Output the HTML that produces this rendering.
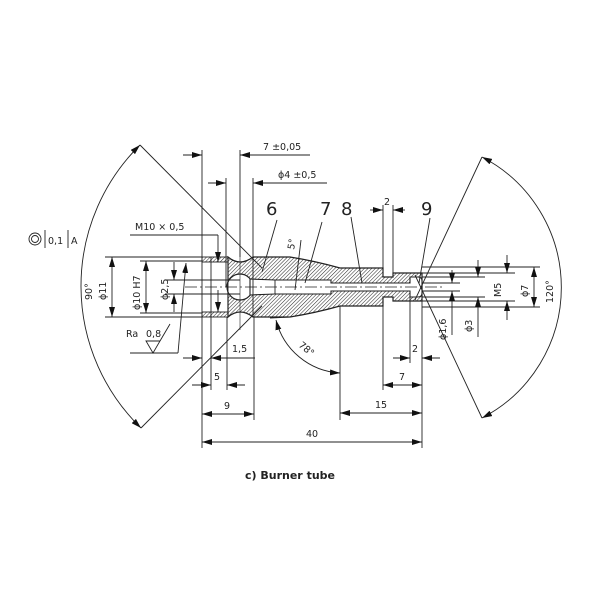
<!DOCTYPE html>
<html><head><meta charset="utf-8"><style>
html,body{margin:0;padding:0;background:#fff}
svg{display:block}
text{font-family:"DejaVu Sans","Liberation Sans",sans-serif;fill:#222}
</style></head><body>
<svg width="600" height="600" viewBox="0 0 600 600" xmlns="http://www.w3.org/2000/svg">
<defs>
<pattern id="h" width="2.6" height="2.6" patternUnits="userSpaceOnUse" patternTransform="rotate(45)">
<rect width="2.6" height="2.6" fill="#fff"/><line x1="0" y1="0" x2="0" y2="2.6" stroke="#222" stroke-width="1"/>
</pattern>
<marker id="a" markerWidth="10" markerHeight="6" refX="10" refY="3" orient="auto" markerUnits="userSpaceOnUse">
<path d="M0,0 L10,3 L0,6 z" fill="#111"/></marker>
<marker id="b" markerWidth="10" markerHeight="6" refX="0" refY="3" orient="auto" markerUnits="userSpaceOnUse">
<path d="M10,0 L0,3 L10,6 z" fill="#111"/></marker>
</defs>
<g stroke="#222" stroke-width="0.9" fill="none">
<rect x="202" y="257" width="26" height="5" fill="url(#h)"/>
<rect x="202" y="312" width="26" height="5" fill="url(#h)"/>
<line x1="202" y1="257" x2="202" y2="317"/>
<line x1="211" y1="257" x2="211" y2="317"/>
<path d="M228,257 Q240,267 253,257 L290,257 Q315,261 340,268 L383,268 L383,277 L393,277 L393,273 L422,273 L422,301 L393,301 L393,297 L383,297 L383,306 L340,306 Q315,313 290,317 L253,317 Q240,307 228,317 Z" fill="url(#h)" stroke-width="1.2"/>
<circle cx="240" cy="287" r="13" fill="#fff" stroke-width="1.2"/>
<path d="M250,279 L275,280 L331,280 L331,283 L410,283 L410,277 L418,277 Q422,277 422,281 L422,293 Q422,297 418,297 L410,297 L410,291 L331,291 L331,294 L275,294 L250,295 Z" fill="#fff" stroke-width="1.1"/>
<line x1="275" y1="280" x2="275" y2="294"/>
<line x1="253" y1="257" x2="253" y2="317"/>
<line x1="228" y1="257" x2="228" y2="317"/>
<line x1="185" y1="287" x2="445" y2="287" stroke-dasharray="12,3,2,3" stroke-width="0.7"/>
<line x1="240" y1="240" x2="240" y2="330" stroke-width="0.6"/>
<line x1="202" y1="150" x2="202" y2="257"/><line x1="240" y1="150" x2="240" y2="257"/>
<line x1="226" y1="178" x2="226" y2="287"/><line x1="253" y1="178" x2="253" y2="257"/>
<line x1="183" y1="155" x2="202" y2="155" marker-end="url(#a)"/>
<line x1="310" y1="155" x2="240" y2="155" marker-end="url(#a)"/>
<line x1="208" y1="183" x2="226" y2="183" marker-end="url(#a)"/>
<line x1="327" y1="183" x2="253" y2="183" marker-end="url(#a)"/>
<line x1="140" y1="145" x2="262" y2="268"/>
<line x1="141" y1="428" x2="262" y2="306"/>
<path d="M140,145 A198,198 0 0 0 141,428" marker-start="url(#b)" marker-end="url(#a)"/>
<line x1="482" y1="157" x2="415" y2="300"/>
<line x1="482" y1="418" x2="415" y2="275"/>
<path d="M482,157 A147,147 0 0 1 482,418" marker-start="url(#b)" marker-end="url(#a)"/>
<line x1="105" y1="257" x2="202" y2="257"/><line x1="105" y1="317" x2="202" y2="317"/>
<line x1="140" y1="261" x2="202" y2="261"/><line x1="140" y1="313" x2="202" y2="313"/>
<line x1="165" y1="280" x2="240" y2="280"/><line x1="165" y1="294" x2="240" y2="294"/>
<line x1="112" y1="287" x2="112" y2="257" marker-end="url(#a)"/><line x1="112" y1="287" x2="112" y2="317" marker-end="url(#a)"/>
<line x1="146" y1="287" x2="146" y2="261" marker-end="url(#a)"/><line x1="146" y1="287" x2="146" y2="313" marker-end="url(#a)"/>
<line x1="174" y1="262" x2="174" y2="280" marker-end="url(#a)"/><line x1="174" y1="312" x2="174" y2="294" marker-end="url(#a)"/>
<line x1="130" y1="235" x2="218" y2="235"/>
<line x1="218" y1="235" x2="218" y2="262" marker-end="url(#a)"/>
<line x1="218" y1="290" x2="218" y2="312" marker-end="url(#a)"/>
<line x1="130" y1="353" x2="178" y2="353"/>
<line x1="178" y1="353" x2="186" y2="263" marker-end="url(#a)"/>
<path d="M146,341 L160,341 L153,353 Z M160,341 L170,324"/>
<line x1="277" y1="220" x2="262" y2="272"/>
<line x1="322" y1="222" x2="305" y2="283"/>
<line x1="351" y1="217" x2="362" y2="283"/>
<line x1="430" y1="218" x2="419" y2="283"/>
<line x1="301" y1="240" x2="295" y2="290"/>
<line x1="383" y1="205" x2="383" y2="268"/><line x1="393" y1="205" x2="393" y2="273"/>
<line x1="370" y1="210" x2="383" y2="210" marker-end="url(#a)"/>
<line x1="405" y1="210" x2="393" y2="210" marker-end="url(#a)"/>
<line x1="202" y1="317" x2="202" y2="448"/><line x1="211" y1="317" x2="211" y2="390"/>
<line x1="227" y1="317" x2="227" y2="390"/><line x1="254" y1="317" x2="254" y2="420"/>
<line x1="183" y1="358" x2="202" y2="358" marker-end="url(#a)"/>
<line x1="255" y1="358" x2="211" y2="358" marker-end="url(#a)"/>
<line x1="192" y1="385" x2="211" y2="385" marker-end="url(#a)"/>
<line x1="245" y1="385" x2="227" y2="385" marker-end="url(#a)"/>
<line x1="228" y1="414" x2="202" y2="414" marker-end="url(#a)"/><line x1="228" y1="414" x2="254" y2="414" marker-end="url(#a)"/>
<line x1="312" y1="442" x2="202" y2="442" marker-end="url(#a)"/><line x1="312" y1="442" x2="422" y2="442" marker-end="url(#a)"/>
<line x1="340" y1="306" x2="340" y2="420"/><line x1="383" y1="297" x2="383" y2="390"/>
<line x1="410" y1="297" x2="410" y2="363"/><line x1="422" y1="301" x2="422" y2="448"/>
<line x1="381" y1="413" x2="340" y2="413" marker-end="url(#a)"/><line x1="381" y1="413" x2="422" y2="413" marker-end="url(#a)"/>
<line x1="403" y1="385" x2="383" y2="385" marker-end="url(#a)"/><line x1="403" y1="385" x2="422" y2="385" marker-end="url(#a)"/>
<line x1="393" y1="358" x2="410" y2="358" marker-end="url(#a)"/>
<line x1="440" y1="358" x2="422" y2="358" marker-end="url(#a)"/>
<line x1="270" y1="318" x2="290" y2="317"/>
<path d="M340,373 A70,70 0 0 1 276,320" marker-end="url(#a)" marker-start="url(#b)"/>
<line x1="422" y1="267" x2="540" y2="267"/><line x1="422" y1="307" x2="540" y2="307"/>
<line x1="422" y1="283" x2="460" y2="283"/><line x1="422" y1="291" x2="460" y2="291"/>
<line x1="422" y1="277" x2="485" y2="277"/><line x1="422" y1="297" x2="485" y2="297"/>
<line x1="422" y1="273" x2="515" y2="273"/><line x1="422" y1="301" x2="515" y2="301"/>
<line x1="452" y1="270" x2="452" y2="283" marker-end="url(#a)"/><line x1="452" y1="305" x2="452" y2="291" marker-end="url(#a)"/>
<line x1="452" y1="305" x2="452" y2="335"/>
<line x1="478" y1="260" x2="478" y2="277" marker-end="url(#a)"/><line x1="478" y1="310" x2="478" y2="297" marker-end="url(#a)"/>
<line x1="478" y1="310" x2="478" y2="337"/>
<line x1="507" y1="255" x2="507" y2="273" marker-end="url(#a)"/><line x1="507" y1="320" x2="507" y2="301" marker-end="url(#a)"/>
<line x1="534" y1="287" x2="534" y2="267" marker-end="url(#a)"/><line x1="534" y1="287" x2="534" y2="307" marker-end="url(#a)"/>
<circle cx="35" cy="239" r="6"/><circle cx="35" cy="239" r="3.5"/>
<line x1="45" y1="230" x2="45" y2="248"/><line x1="68" y1="230" x2="68" y2="248"/>
</g>
<g font-size="9.5">
<text x="263" y="150">7 ±0,05</text>
<text x="278" y="178">ϕ4 ±0,5</text>
<text x="135" y="230">M10 × 0,5</text>
<text x="48" y="244">0,1</text><text x="71" y="244">A</text>
<text x="126" y="337">Ra</text><text x="146" y="337">0,8</text>
<text x="232" y="352">1,5</text>
<text x="214" y="380">5</text>
<text x="224" y="409">9</text>
<text x="306" y="437">40</text>
<text x="375" y="408">15</text>
<text x="399" y="380">7</text>
<text x="412" y="352">2</text>
<text x="384" y="205">2</text>
<text transform="translate(92,300) rotate(-90)">90°</text>
<text transform="translate(106,300) rotate(-90)">ϕ11</text>
<text transform="translate(140,310) rotate(-90)">ϕ10 H7</text>
<text transform="translate(168,300) rotate(-90)">ϕ2,5</text>
<text transform="translate(446,340) rotate(-90)">ϕ1,6</text>
<text transform="translate(472,332) rotate(-90)">ϕ3</text>
<text transform="translate(501,297) rotate(-90)">M5</text>
<text transform="translate(528,297) rotate(-90)">ϕ7</text>
<text transform="translate(553,303) rotate(-90)">120°</text>
<text transform="translate(294,250) rotate(-80)">5°</text>
<text transform="translate(298,346) rotate(40)">78°</text>
</g>
<g font-size="18">
<text x="266" y="215">6</text><text x="320" y="215">7</text><text x="341" y="215">8</text><text x="421" y="215">9</text>
</g>
<text x="245" y="479" font-size="11" font-weight="bold" font-family="Liberation Sans,sans-serif">c)   Burner tube</text>
</svg>
</body></html>
